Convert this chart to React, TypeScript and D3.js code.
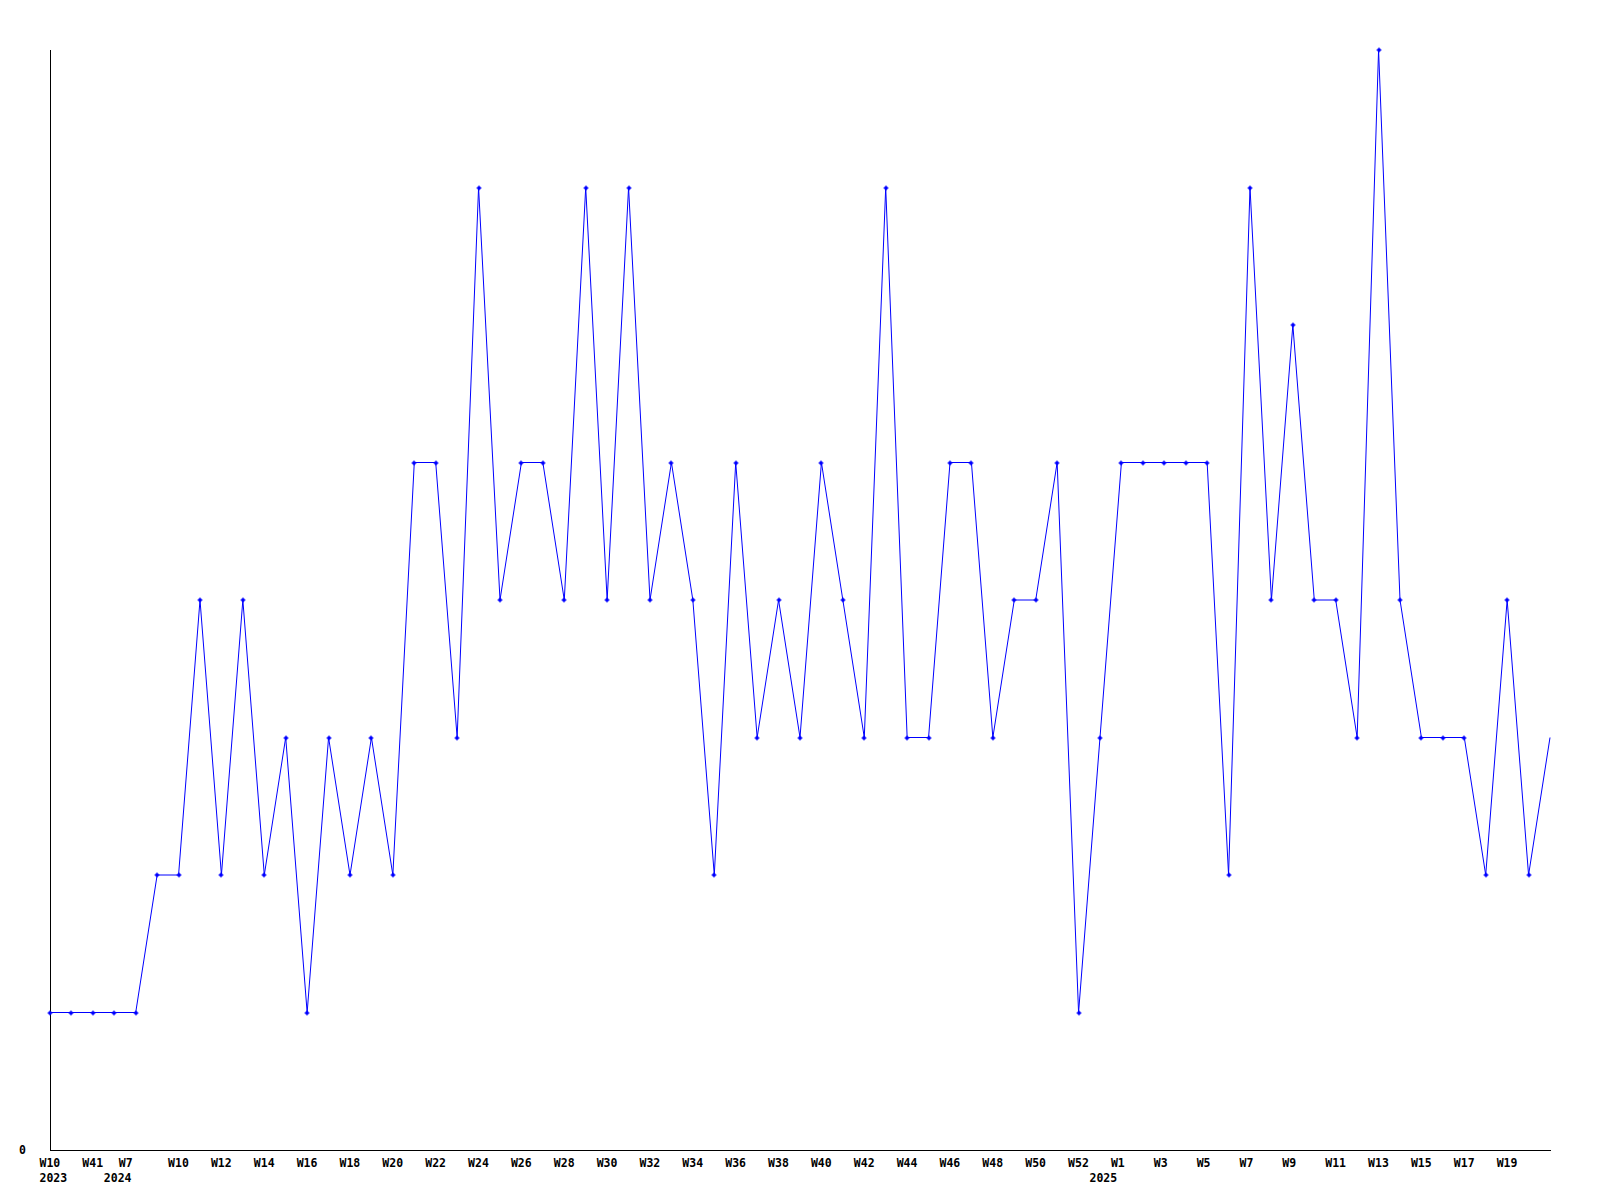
import React from "react";
import * as d3 from "d3";

// One value per weekly point (71 points)
const values: number[] = [
  1, 1, 1, 1, 1, 2, 2, 4, 2, 4,
  2, 3, 1, 3, 2, 3, 2, 5, 5, 3,
  7, 4, 5, 5, 4, 7, 4, 7, 4, 5,
  4, 2, 5, 3, 4, 3, 5, 4, 3, 7,
  3, 3, 5, 5, 3, 4, 4, 5, 1, 3,
  5, 5, 5, 5, 5, 2, 7, 4, 6, 4,
  4, 3, 8, 4, 3, 3, 3, 2, 4, 2,
  3,
];

// Week tick labels and the point index they sit at
const weekTickLabels: string[] = [
  "W10", "W41", "W7", "W10", "W12", "W14", "W16", "W18", "W20", "W22",
  "W24", "W26", "W28", "W30", "W32", "W34", "W36", "W38", "W40", "W42",
  "W44", "W46", "W48", "W50", "W52", "W1", "W3", "W5", "W7", "W9",
  "W11", "W13", "W15", "W17", "W19",
];
const weekTickIndex: number[] = [
  0, 2, 3.7, 6, 8, 10, 12, 14, 16, 18,
  20, 22, 24, 26, 28, 30, 32, 34, 36, 38,
  40, 42, 44, 46, 48, 50, 52, 54, 56, 58,
  60, 62, 64, 66, 68,
];

const yearLabels: string[] = ["2023", "2024", "2025"];
const yearIndex: number[] = [0, 3, 49];

const yMax = 8;

export default function App() {
  const width = 1600;
  const height = 1200;
  const left = 50;
  const right = 1550;
  const top = 50;
  const bottom = 1150;

  const x = d3.scaleLinear().domain([0, values.length - 1]).range([left, right]);
  const y = d3.scaleLinear().domain([0, yMax]).range([bottom, top]);

  const line = d3
    .line<number>()
    .x((_, i) => x(i))
    .y((d) => y(d));

  const marker =
    "M-0.5,-2.5h1v1h1v1h1v1h-1v1h-1v1h-1v-1h-1v-1h-1v-1h1v-1h1z";

  const font = "'DejaVu Sans Mono', monospace";

  return (
    <svg
      width={width}
      height={height}
      style={{ position: "absolute", left: 0, top: 0, background: "#fff" }}
    >
      <rect x={0} y={0} width={width} height={height} fill="#fff" />
      {/* axes */}
      <line x1={left + 0.5} x2={left + 0.5} y1={top} y2={bottom + 0.5} stroke="#000" strokeWidth={1} shapeRendering="crispEdges" />
      <line x1={left} x2={right + 1} y1={bottom + 0.5} y2={bottom + 0.5} stroke="#000" strokeWidth={1} shapeRendering="crispEdges" />

      {/* y label */}
      <text x={26} y={1154} textAnchor="end" fontFamily={font} fontWeight="bold" fontSize={11.5} fill="#000">
        0
      </text>

      {/* line */}
      <path d={line(values) || ""} fill="none" stroke="#0000ff" strokeWidth={1} />

      {/* markers (the last point sits on the plot edge without a marker) */}
      {values.slice(0, values.length - 1).map((v, i) => (
        <path key={i} d={marker} transform={`translate(${Math.round(x(i))},${Math.round(y(v))})`} fill="#0000ff" />
      ))}

      {/* week ticks */}
      {weekTickLabels.map((lab, k) => (
        <text
          key={"w" + k}
          x={x(weekTickIndex[k]) - 10.5}
          y={1166.7}
          fontFamily={font}
          fontWeight="bold"
          fontSize={11.5}
          fill="#000"
        >
          {lab}
        </text>
      ))}

      {/* year ticks */}
      {yearLabels.map((lab, k) => (
        <text
          key={"y" + k}
          x={x(yearIndex[k]) - 10.5}
          y={1181.7}
          fontFamily={font}
          fontWeight="bold"
          fontSize={11.5}
          fill="#000"
        >
          {lab}
        </text>
      ))}
    </svg>
  );
}
